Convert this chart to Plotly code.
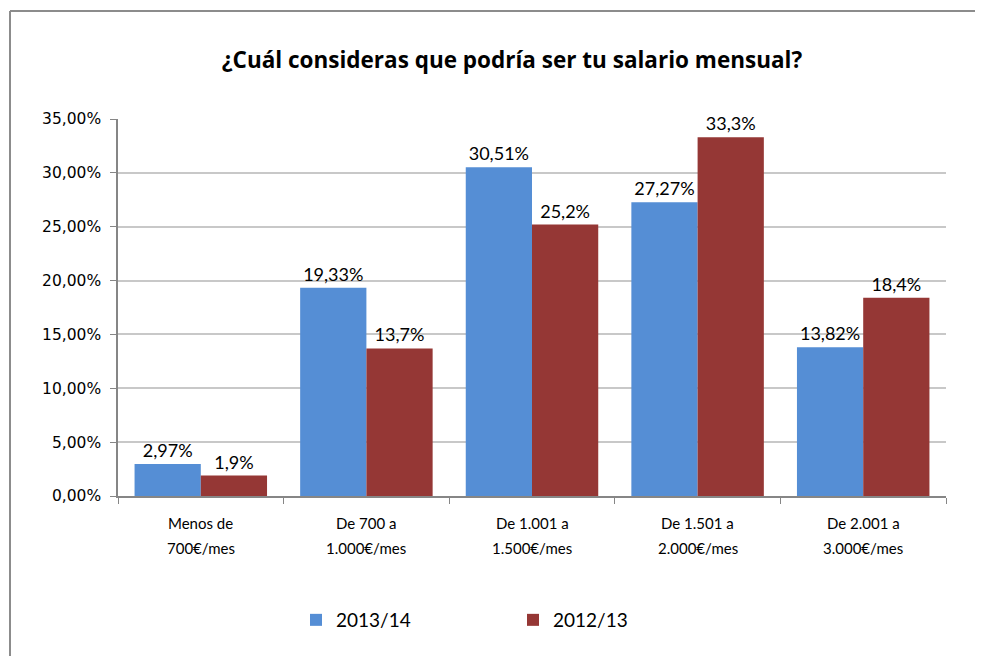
import plotly.graph_objects as go

categories = ["Menos de<br>700€/mes", "De 700 a<br>1.000€/mes", "De 1.001 a<br>1.500€/mes",
              "De 1.501 a<br>2.000€/mes", "De 2.001 a<br>3.000€/mes"]
series_2013_14 = [2.97, 19.33, 30.51, 27.27, 13.82]
labels_2013_14 = ["2,97%", "19,33%", "30,51%", "27,27%", "13,82%"]
series_2012_13 = [1.9, 13.7, 25.2, 33.3, 18.4]
labels_2012_13 = ["1,9%", "13,7%", "25,2%", "33,3%", "18,4%"]
y_tickvals = [0, 5, 10, 15, 20, 25, 30, 35]
y_ticktext = ["0,00%", "5,00%", "10,00%", "15,00%", "20,00%", "25,00%", "30,00%", "35,00%"]

# page body has an 8px margin on every side; keep the figure inside the window
OFF = 8
W, H = 984 - 2 * OFF - 1, 666 - 2 * OFF - 2
L, T = 118 - OFF, 119 - OFF
R = W - (946 - OFF)
B = H - (496 - OFF)
pw, ph = W - L - R, H - T - B

font_main = "Lato, 'Open Sans', sans-serif"


def px_x(sx):
    """screen x pixel -> paper x"""
    return (sx - OFF - L) / pw


def px_y(sy):
    """screen y pixel -> paper y"""
    return (H - B - (sy - OFF)) / ph


fig = go.Figure()
fig.add_trace(go.Bar(
    x=categories, y=series_2013_14, name="2013/14",
    marker=dict(color="#558ED5", line=dict(width=0)),
    text=labels_2013_14, textposition="outside", cliponaxis=False,
    constraintext="none", textfont=dict(size=18, color="#000000", family=font_main),
))
fig.add_trace(go.Bar(
    x=categories, y=series_2012_13, name="2012/13",
    marker=dict(color="#953735", line=dict(width=0)),
    text=labels_2012_13, textposition="outside", cliponaxis=False,
    constraintext="none", textfont=dict(size=18, color="#000000", family=font_main),
))

# category labels as two rows (wider line spacing than tick labels allow)
annotations = []
for cat in categories:
    line1, line2 = cat.split("<br>")
    annotations.append(dict(x=cat, xref="x", y=px_y(523), yref="paper", text=line1,
                            showarrow=False, xanchor="center", yanchor="middle",
                            font=dict(size=15, color="#000000", family=font_main)))
    annotations.append(dict(x=cat, xref="x", y=px_y(548), yref="paper", text=line2,
                            showarrow=False, xanchor="center", yanchor="middle",
                            font=dict(size=15, color="#000000", family=font_main)))

frame_line = dict(color="#8C8C8C", width=2)

fig.update_layout(
    width=W, height=H,
    margin=dict(l=L, r=R, t=T, b=B, autoexpand=False),
    paper_bgcolor="white", plot_bgcolor="white",
    barmode="group", bargap=0.2, bargroupgap=0,
    font=dict(family=font_main, color="#000000"),
    title=dict(text="<b>¿Cuál consideras que podría ser tu salario mensual?</b>",
               x=(512 - OFF) / W, xref="container", xanchor="center",
               y=1 - (60 - OFF) / H, yref="container", yanchor="middle",
               font=dict(size=22.5, color="#000000", family="'Open Sans', sans-serif")),
    xaxis=dict(showline=True, linecolor="#868686", linewidth=1.5,
               ticks="outside", tickson="boundaries", ticklen=6, tickcolor="#868686",
               showticklabels=False, showgrid=False),
    yaxis=dict(range=[0, 35], tickvals=y_tickvals, ticktext=y_ticktext,
               showline=True, linecolor="#868686", linewidth=1.5,
               ticks="outside", ticklen=6, tickcolor="#868686",
               showgrid=True, gridcolor="#C8C8C8", gridwidth=1.5,
               ticklabelstandoff=6,
               tickfont=dict(size=15.5, color="#000000", family="'DejaVu Sans', sans-serif"),
               zeroline=False),
    legend=dict(orientation="h", x=px_x(296), xanchor="left",
                y=px_y(620), yanchor="middle",
                entrywidth=172, entrywidthmode="pixels",
                font=dict(size=19, color="#000000"), bgcolor="rgba(0,0,0,0)"),
    showlegend=True,
    annotations=annotations,
    shapes=[
        dict(type="line", xref="paper", yref="paper",
             x0=px_x(10), x1=px_x(1010), y0=px_y(11), y1=px_y(11),
             line=frame_line, layer="below"),
        dict(type="line", xref="paper", yref="paper",
             x0=px_x(10), x1=px_x(10), y0=px_y(11), y1=px_y(700),
             line=frame_line, layer="below"),
    ],
)

fig.write_html("out.html")
